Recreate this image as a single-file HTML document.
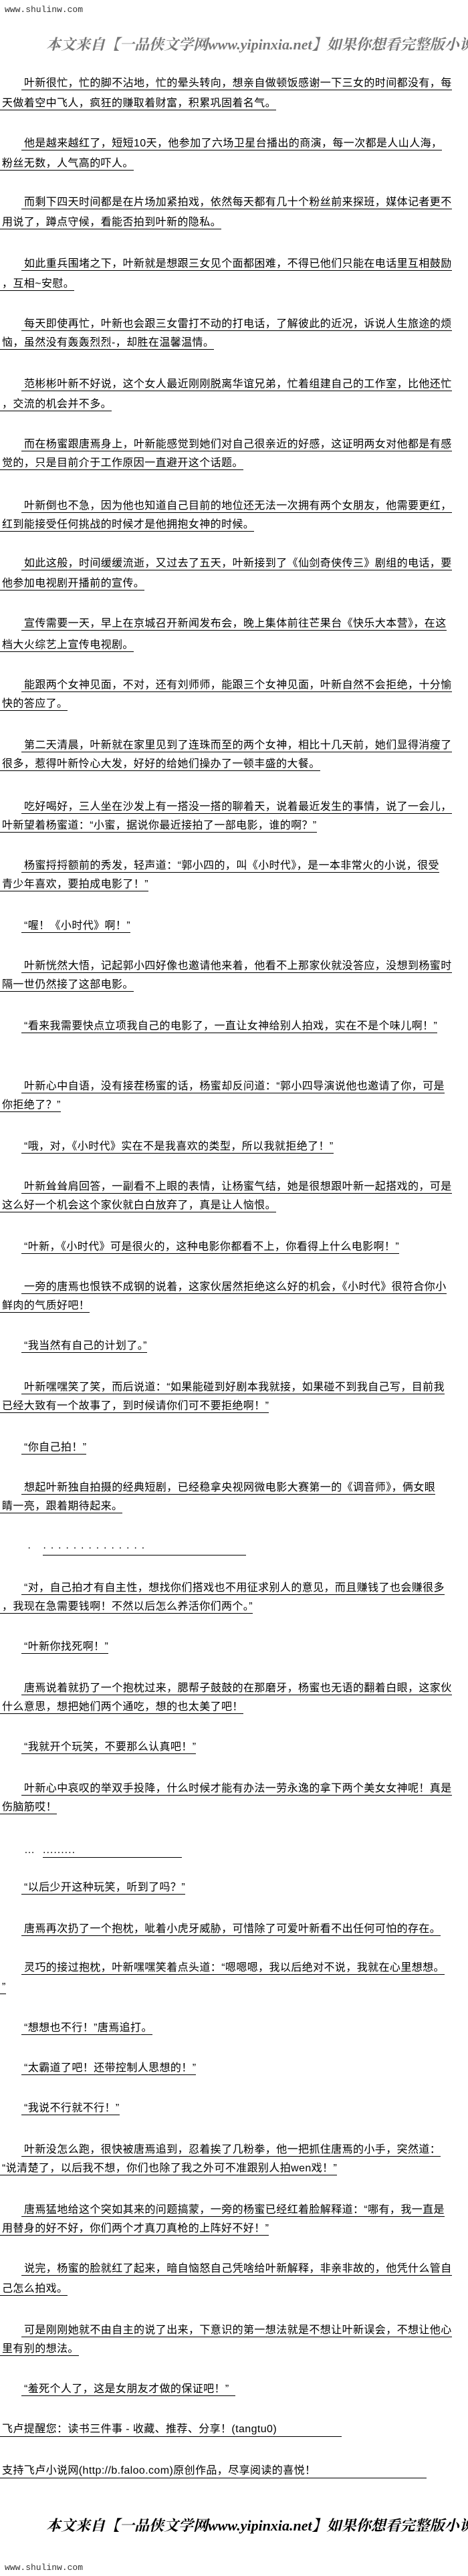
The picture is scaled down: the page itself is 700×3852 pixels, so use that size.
<!DOCTYPE html>
<html><head><meta charset="utf-8">
<style>
html,body{margin:0;padding:0;background:#fff;}
body{width:700px;height:3852px;position:relative;overflow:hidden;font-family:"Liberation Sans","Noto Sans CJK SC","WenQuanYi Zen Hei",sans-serif;}
.l{position:absolute;left:0;white-space:nowrap;font-size:16px;line-height:18px;letter-spacing:0.4px;color:#000;}
.l span{border-bottom:1px solid #000;padding-bottom:1px;}
.a span{margin-left:32px;padding-left:4px;}
.c span{padding-left:3px;}
.url{position:absolute;left:7px;font-family:"Liberation Mono",monospace;font-size:13px;color:#333;line-height:16px;}
.banw{position:absolute;left:69px;width:631px;height:30px;overflow:hidden;}
.ban{white-space:nowrap;font-family:"Liberation Serif","Noto Serif CJK SC",serif;font-weight:bold;font-size:22px;line-height:26px;font-style:italic;}
</style></head><body>
<div class="url" style="top:7px">www.shulinw.com</div>
<div class="banw" style="top:54px"><div class="ban" style="color:#777">本文来自【一品侠文学网www.yipinxia.net】如果你想看完整版小说，请</div></div>

<div class="l a" style="top:116px"><span>叶新很忙，忙的脚不沾地，忙的晕头转向，想亲自做顿饭感谢一下三女的时间都没有，每</span></div>
<div class="l c" style="top:146px"><span>天做着空中飞人，疯狂的赚取着财富，积累巩固着名气。</span></div>
<div class="l a" style="top:206px"><span>他是越来越红了，短短10天，他参加了六场卫星台播出的商演，每一次都是人山人海，</span></div>
<div class="l c" style="top:236px"><span>粉丝无数，人气高的吓人。</span></div>
<div class="l a" style="top:294px"><span>而剩下四天时间都是在片场加紧拍戏，依然每天都有几十个粉丝前来探班，媒体记者更不</span></div>
<div class="l c" style="top:324px"><span>用说了，蹲点守候，看能否拍到叶新的隐私。</span></div>
<div class="l a" style="top:386px"><span>如此重兵围堵之下，叶新就是想跟三女见个面都困难，不得已他们只能在电话里互相鼓励</span></div>
<div class="l c" style="top:416px"><span>，互相~安慰。</span></div>
<div class="l a" style="top:476px"><span>每天即使再忙，叶新也会跟三女雷打不动的打电话，了解彼此的近况，诉说人生旅途的烦</span></div>
<div class="l c" style="top:504px"><span>恼，虽然没有轰轰烈烈-，却胜在温馨温情。</span></div>
<div class="l a" style="top:566px"><span>范彬彬叶新不好说，这个女人最近刚刚脱离华谊兄弟，忙着组建自己的工作室，比他还忙</span></div>
<div class="l c" style="top:596px"><span>，交流的机会并不多。</span></div>
<div class="l a" style="top:656px"><span>而在杨蜜跟唐焉身上，叶新能感觉到她们对自己很亲近的好感，这证明两女对他都是有感</span></div>
<div class="l c" style="top:684px"><span>觉的，只是目前介于工作原因一直避开这个话题。</span></div>
<div class="l a" style="top:748px"><span>叶新倒也不急，因为他也知道自己目前的地位还无法一次拥有两个女朋友，他需要更红，</span></div>
<div class="l c" style="top:776px"><span>红到能接受任何挑战的时候才是他拥抱女神的时候。</span></div>
<div class="l a" style="top:834px"><span>如此这般，时间缓缓流逝，又过去了五天，叶新接到了《仙剑奇侠传三》剧组的电话，要</span></div>
<div class="l c" style="top:864px"><span>他参加电视剧开播前的宣传。</span></div>
<div class="l a" style="top:924px"><span>宣传需要一天，早上在京城召开新闻发布会，晚上集体前往芒果台《快乐大本营》，在这</span></div>
<div class="l c" style="top:956px"><span>档大火综艺上宣传电视剧。</span></div>
<div class="l a" style="top:1016px"><span>能跟两个女神见面，不对，还有刘师师，能跟三个女神见面，叶新自然不会拒绝，十分愉</span></div>
<div class="l c" style="top:1044px"><span>快的答应了。</span></div>
<div class="l a" style="top:1106px"><span>第二天清晨，叶新就在家里见到了连珠而至的两个女神，相比十几天前，她们显得消瘦了</span></div>
<div class="l c" style="top:1134px"><span>很多，惹得叶新怜心大发，好好的给她们操办了一顿丰盛的大餐。</span></div>
<div class="l a" style="top:1198px"><span>吃好喝好，三人坐在沙发上有一搭没一搭的聊着天，说着最近发生的事情，说了一会儿，</span></div>
<div class="l c" style="top:1226px"><span>叶新望着杨蜜道：“小蜜，据说你最近接拍了一部电影，谁的啊？”</span></div>
<div class="l a" style="top:1286px"><span>杨蜜捋捋额前的秀发，轻声道：“郭小四的，叫《小时代》，是一本非常火的小说，很受</span></div>
<div class="l c" style="top:1314px"><span>青少年喜欢，要拍成电影了！”</span></div>
<div class="l a" style="top:1376px"><span>“喔！《小时代》啊！”</span></div>
<div class="l a" style="top:1436px"><span>叶新恍然大悟，记起郭小四好像也邀请他来着，他看不上那家伙就没答应，没想到杨蜜时</span></div>
<div class="l c" style="top:1464px"><span>隔一世仍然接了这部电影。</span></div>
<div class="l a" style="top:1526px"><span>“看来我需要快点立项我自己的电影了，一直让女神给别人拍戏，实在不是个味儿啊！”</span></div>
<div class="l a" style="top:1616px"><span>叶新心中自语，没有接茬杨蜜的话，杨蜜却反问道：“郭小四导演说他也邀请了你，可是</span></div>
<div class="l c" style="top:1644px"><span>你拒绝了？”</span></div>
<div class="l a" style="top:1706px"><span>“哦，对，《小时代》实在不是我喜欢的类型，所以我就拒绝了！”</span></div>
<div class="l a" style="top:1766px"><span>叶新耸耸肩回答，一副看不上眼的表情，让杨蜜气结，她是很想跟叶新一起搭戏的，可是</span></div>
<div class="l c" style="top:1794px"><span>这么好一个机会这个家伙就白白放弃了，真是让人恼恨。</span></div>
<div class="l a" style="top:1856px"><span>“叶新，《小时代》可是很火的，这种电影你都看不上，你看得上什么电影啊！”</span></div>
<div class="l a" style="top:1916px"><span>一旁的唐焉也恨铁不成钢的说着，这家伙居然拒绝这么好的机会，《小时代》很符合你小</span></div>
<div class="l c" style="top:1944px"><span>鲜肉的气质好吧！</span></div>
<div class="l a" style="top:2004px"><span>“我当然有自己的计划了。”</span></div>
<div class="l a" style="top:2066px"><span>叶新嘿嘿笑了笑，而后说道：“如果能碰到好剧本我就接，如果碰不到我自己写，目前我</span></div>
<div class="l c" style="top:2094px"><span>已经大致有一个故事了，到时候请你们可不要拒绝啊！”</span></div>
<div class="l a" style="top:2156px"><span>“你自己拍！”</span></div>
<div class="l a" style="top:2216px"><span>想起叶新独自拍摄的经典短剧，已经稳拿央视网微电影大赛第一的《调音师》，俩女眼</span></div>
<div class="l c" style="top:2244px"><span>睛一亮，跟着期待起来。</span></div>
<div class="l" style="top:2306px;left:41px">·</div>
<div class="l" style="top:2306px;left:64px"><span style="display:inline-block;width:304px;letter-spacing:6px">··············</span></div>
<div class="l a" style="top:2366px"><span>“对，自己拍才有自主性，想找你们搭戏也不用征求别人的意见，而且赚钱了也会赚很多</span></div>
<div class="l c" style="top:2394px"><span>，我现在急需要钱啊！不然以后怎么养活你们两个。”</span></div>
<div class="l a" style="top:2454px"><span>“叶新你找死啊！”</span></div>
<div class="l a" style="top:2516px"><span>唐焉说着就扔了一个抱枕过来，腮帮子鼓鼓的在那磨牙，杨蜜也无语的翻着白眼，这家伙</span></div>
<div class="l c" style="top:2544px"><span>什么意思，想把她们两个通吃，想的也太美了吧！</span></div>
<div class="l a" style="top:2604px"><span>“我就开个玩笑，不要那么认真吧！”</span></div>
<div class="l a" style="top:2666px"><span>叶新心中哀叹的举双手投降，什么时候才能有办法一劳永逸的拿下两个美女女神呢！真是</span></div>
<div class="l c" style="top:2694px"><span>伤脑筋哎！</span></div>
<div class="l" style="top:2758px;left:36px">…</div>
<div class="l" style="top:2758px;left:64px"><span style="display:inline-block;width:208px;letter-spacing:1px">.........</span></div>
<div class="l a" style="top:2814px"><span>“以后少开这种玩笑，听到了吗？”</span></div>
<div class="l a" style="top:2876px"><span>唐焉再次扔了一个抱枕，呲着小虎牙威胁，可惜除了可爱叶新看不出任何可怕的存在。</span></div>
<div class="l a" style="top:2934px"><span>灵巧的接过抱枕，叶新嘿嘿笑着点头道：“嗯嗯嗯，我以后绝对不说，我就在心里想想。</span></div>
<div class="l c" style="top:2963px"><span>”</span></div>
<div class="l a" style="top:3024px"><span>“想想也不行！”唐焉追打。</span></div>
<div class="l a" style="top:3084px"><span>“太霸道了吧！还带控制人思想的！”</span></div>
<div class="l a" style="top:3144px"><span>“我说不行就不行！”</span></div>
<div class="l a" style="top:3206px"><span>叶新没怎么跑，很快被唐焉追到，忍着挨了几粉拳，他一把抓住唐焉的小手，突然道：</span></div>
<div class="l c" style="top:3234px"><span>“说清楚了，以后我不想，你们也除了我之外可不准跟别人拍wen戏！”</span></div>
<div class="l a" style="top:3296px"><span>唐焉猛地给这个突如其来的问题搞蒙，一旁的杨蜜已经红着脸解释道：“哪有，我一直是</span></div>
<div class="l c" style="top:3324px"><span>用替身的好不好，你们两个才真刀真枪的上阵好不好！”</span></div>
<div class="l a" style="top:3384px"><span>说完，杨蜜的脸就红了起来，暗自恼怒自己凭啥给叶新解释，非亲非故的，他凭什么管自</span></div>
<div class="l c" style="top:3414px"><span>己怎么拍戏。</span></div>
<div class="l a" style="top:3476px"><span>可是刚刚她就不由自主的说了出来，下意识的第一想法就是不想让叶新误会，不想让他心</span></div>
<div class="l c" style="top:3504px"><span>里有别的想法。</span></div>
<div class="l a" style="top:3564px"><span>“羞死个人了，这是女朋友才做的保证吧！”&nbsp;&nbsp;</span></div>
<div class="l c" style="top:3624px"><span style="display:inline-block;width:508px">飞卢提醒您：读书三件事 - 收藏、推荐、分享！(tangtu0)</span></div>
<div class="l c" style="top:3686px"><span style="display:inline-block;width:635px">支持飞卢小说网(http://b.faloo.com)原创作品，尽享阅读的喜悦！</span></div>

<div class="banw" style="top:3764px"><div class="ban" style="color:#000">本文来自【一品侠文学网www.yipinxia.net】如果你想看完整版小说，请</div></div>
<div class="url" style="top:3832px">www.shulinw.com</div>
</body></html>
